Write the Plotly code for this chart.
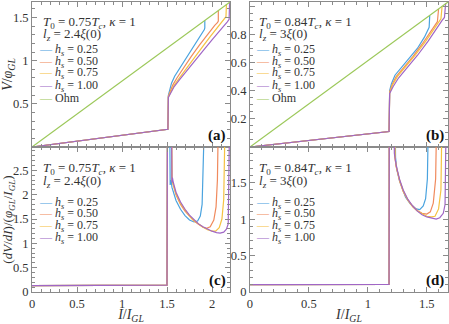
import plotly.graph_objects as go
from plotly.subplots import make_subplots

# ---- data ----
hs_labels = ["0.25", "0.50", "0.75", "1.00"]
colors = ["#4aa3df", "#f08a5d", "#f5c242", "#a066c6"]
ohm_color = "#9cc85a"

# (a) T0 = 0.75Tc, lz = 2.4xi(0): I-V
a_I = [
    [0, 1.51, 1.515, 1.53, 1.55, 1.585, 1.66, 1.73, 1.81, 1.86, 1.90, 1.915, 1.92, 1.92],
    [0, 1.51, 1.515, 1.535, 1.565, 1.61, 1.69, 1.77, 1.86, 1.93, 1.99, 2.03, 2.06, 2.07, 2.07],
    [0, 1.51, 1.515, 1.54, 1.575, 1.63, 1.72, 1.81, 1.90, 1.98, 2.05, 2.10, 2.14, 2.155, 2.16],
    [0, 1.51, 1.515, 1.545, 1.58, 1.64, 1.73, 1.82, 1.92, 2.00, 2.07, 2.12, 2.17, 2.19, 2.195],
]
a_V = [
    [0, 0.205, 0.60, 0.66, 0.74, 0.82, 0.945, 1.06, 1.18, 1.27, 1.33, 1.36, 1.38, 1.47],
    [0, 0.205, 0.59, 0.65, 0.72, 0.80, 0.93, 1.05, 1.18, 1.28, 1.36, 1.41, 1.44, 1.46, 1.58],
    [0, 0.205, 0.58, 0.64, 0.71, 0.79, 0.92, 1.04, 1.17, 1.28, 1.37, 1.43, 1.48, 1.51, 1.65],
    [0, 0.205, 0.575, 0.63, 0.70, 0.78, 0.90, 1.02, 1.14, 1.24, 1.32, 1.39, 1.45, 1.48, 1.67],
]
a_ohm_I = [0, 2.2]
a_ohm_V = [0, 1.68]

# (b) T0 = 0.84Tc, lz = 3xi(0): I-V
b_I = [
    [0, 1.18, 1.185, 1.20, 1.23, 1.28, 1.35, 1.42, 1.48, 1.51, 1.52, 1.525],
    [0, 1.18, 1.185, 1.205, 1.24, 1.30, 1.38, 1.46, 1.53, 1.57, 1.59, 1.60],
    [0, 1.18, 1.185, 1.21, 1.25, 1.32, 1.40, 1.49, 1.56, 1.60, 1.62, 1.63],
    [0, 1.18, 1.185, 1.215, 1.26, 1.33, 1.42, 1.51, 1.58, 1.63, 1.65, 1.66],
]
b_V = [
    [0, 0.11, 0.40, 0.45, 0.51, 0.56, 0.625, 0.70, 0.78, 0.83, 0.85, 0.935],
    [0, 0.11, 0.39, 0.44, 0.50, 0.56, 0.64, 0.73, 0.82, 0.87, 0.89, 0.98],
    [0, 0.11, 0.385, 0.44, 0.50, 0.57, 0.65, 0.75, 0.84, 0.89, 0.91, 1.00],
    [0, 0.11, 0.38, 0.43, 0.49, 0.56, 0.65, 0.75, 0.84, 0.90, 0.92, 1.02],
]
b_ohm_I = [0, 1.68]
b_ohm_V = [0, 1.03]

# (c) differential resistance, T0 = 0.75Tc
c_I = [
    [0, 1.50, 1.505, 1.53, 1.535, 1.545, 1.555, 1.57, 1.60, 1.65, 1.70, 1.75, 1.80, 1.84, 1.87, 1.89, 1.905, 1.915],
    [0, 1.50, 1.505, 1.55, 1.555, 1.56, 1.57, 1.60, 1.65, 1.70, 1.75, 1.80, 1.85, 1.90, 1.94, 1.98, 2.02, 2.045, 2.06, 2.07],
    [0, 1.50, 1.505, 1.55, 1.555, 1.56, 1.57, 1.60, 1.65, 1.70, 1.75, 1.80, 1.85, 1.90, 1.95, 2.00, 2.04, 2.08, 2.11, 2.13, 2.145],
    [0, 1.50, 1.505, 1.55, 1.555, 1.56, 1.57, 1.60, 1.65, 1.70, 1.75, 1.80, 1.85, 1.90, 1.95, 2.00, 2.05, 2.09, 2.13, 2.16, 2.18, 2.195],
]
c_R = [
    [0.13, 0.14, 3.5, 3.5, 2.2, 2.3, 2.15, 2.05, 1.88, 1.70, 1.57, 1.48, 1.44, 1.46, 1.56, 1.80, 2.40, 3.5],
    [0.13, 0.14, 3.5, 3.5, 2.3, 2.25, 2.2, 2.0, 1.80, 1.66, 1.55, 1.46, 1.39, 1.33, 1.31, 1.34, 1.48, 1.75, 2.3, 3.5],
    [0.13, 0.14, 3.5, 3.5, 2.3, 2.28, 2.2, 2.02, 1.82, 1.68, 1.56, 1.47, 1.39, 1.33, 1.28, 1.25, 1.25, 1.32, 1.50, 1.9, 3.5],
    [0.13, 0.14, 3.5, 3.5, 2.25, 2.35, 2.25, 2.05, 1.85, 1.70, 1.58, 1.48, 1.40, 1.34, 1.29, 1.25, 1.22, 1.21, 1.23, 1.29, 1.40, 3.5],
]

# (d) differential resistance, T0 = 0.84Tc
d_I = [
    [0, 1.18, 1.182, 1.23, 1.235, 1.245, 1.27, 1.29, 1.32, 1.36, 1.41, 1.44, 1.47, 1.49, 1.505, 1.515],
    [0, 1.18, 1.182, 1.225, 1.23, 1.24, 1.27, 1.30, 1.34, 1.38, 1.42, 1.46, 1.50, 1.53, 1.555, 1.575, 1.585],
    [0, 1.18, 1.182, 1.225, 1.23, 1.24, 1.27, 1.30, 1.34, 1.38, 1.42, 1.46, 1.50, 1.54, 1.57, 1.60, 1.62, 1.63],
    [0, 1.18, 1.182, 1.22, 1.225, 1.24, 1.27, 1.30, 1.34, 1.38, 1.42, 1.46, 1.50, 1.54, 1.58, 1.61, 1.64, 1.655, 1.665],
]
d_R = [
    [0.1, 0.105, 2.5, 2.5, 1.85, 1.69, 1.52, 1.42, 1.30, 1.21, 1.14, 1.13, 1.18, 1.28, 1.55, 2.5],
    [0.1, 0.105, 2.5, 2.5, 1.85, 1.72, 1.52, 1.38, 1.26, 1.18, 1.12, 1.08, 1.07, 1.10, 1.22, 1.55, 2.5],
    [0.1, 0.105, 2.5, 2.5, 1.85, 1.73, 1.53, 1.39, 1.26, 1.17, 1.11, 1.07, 1.04, 1.03, 1.04, 1.14, 1.40, 2.5],
    [0.1, 0.105, 2.5, 2.5, 1.9, 1.74, 1.54, 1.40, 1.27, 1.18, 1.11, 1.06, 1.03, 1.01, 1.00, 1.02, 1.08, 1.2, 2.5],
]

FONT = "Liberation Serif, DejaVu Serif, serif"
TXT = "#333333"
FRAME = "#8a8a8a"

fig = make_subplots(rows=2, cols=2, horizontal_spacing=0.048, vertical_spacing=0)

panels = [(1, 1, a_I, a_V), (1, 2, b_I, b_V), (2, 1, c_I, c_R), (2, 2, d_I, d_R)]
for row, col, xs, ys in panels:
    for k in range(4):
        fig.add_trace(go.Scatter(
            x=xs[k], y=ys[k], mode="lines",
            line=dict(color=colors[k], width=1.2),
            name="h_s = " + hs_labels[k], showlegend=False,
        ), row=row, col=col)

fig.add_trace(go.Scatter(x=a_ohm_I, y=a_ohm_V, mode="lines", line=dict(color=ohm_color, width=1.2),
                         name="Ohm", showlegend=False), row=1, col=1)
fig.add_trace(go.Scatter(x=b_ohm_I, y=b_ohm_V, mode="lines", line=dict(color=ohm_color, width=1.2),
                         name="Ohm", showlegend=False), row=1, col=2)

axis_common = dict(
    showline=True, linecolor=FRAME, linewidth=1, mirror="allticks", automargin=False,
    ticks="inside", ticklen=5, tickcolor=FRAME, showgrid=False, zeroline=False,
    tickfont=dict(family=FONT, size=12.5, color=TXT),
)
minor = dict(dtick=0.1, ticklen=3, tickcolor=FRAME, ticks="inside")

# x axes
fig.update_xaxes(**axis_common)
fig.update_xaxes(range=[0, 2.2], tickvals=[0, 0.5, 1, 1.5, 2], minor=minor, col=1)
fig.update_xaxes(range=[0, 1.68], tickvals=[0, 0.5, 1, 1.5], minor=minor, col=2)
fig.update_xaxes(showticklabels=False, row=1)
fig.update_xaxes(title=dict(text="<i>I</i>/<i>I<sub>GL</sub></i>", font=dict(family=FONT, size=14, color=TXT),
                            standoff=5), row=2)

# y axes
fig.update_yaxes(**axis_common)
fig.update_yaxes(range=[0, 1.68], tickvals=[0.5, 1, 1.5], minor=minor,
                 title=dict(text="<i>V</i>/<i>φ<sub>GL</sub></i>", font=dict(family=FONT, size=14, color=TXT),
                            standoff=3), row=1, col=1)
fig.update_yaxes(range=[0, 1.03], tickvals=[0.2, 0.4, 0.6, 0.8, 1],
                 minor=dict(dtick=0.05, ticklen=3, tickcolor=FRAME, ticks="inside"), row=1, col=2)
fig.update_yaxes(range=[0, 2.98], tickvals=[0, 0.5, 1, 1.5, 2, 2.5], minor=minor,
                 title=dict(text="(<i>dV</i>/<i>dI</i>)/(<i>φ<sub>GL</sub></i>/<i>I<sub>GL</sub></i>)",
                            font=dict(family=FONT, size=13, color=TXT), standoff=4), row=2, col=1)
fig.update_yaxes(range=[0, 1.99], tickvals=[0, 0.5, 1, 1.5], minor=minor, row=2, col=2)

# manual domains to match the reference layout
fig.update_layout(
    xaxis=dict(domain=[0, 0.476]), xaxis3=dict(domain=[0, 0.476]),
    xaxis2=dict(domain=[0.524, 1]), xaxis4=dict(domain=[0.524, 1]),
    yaxis=dict(domain=[0.5, 1]), yaxis2=dict(domain=[0.5, 1]),
    yaxis3=dict(domain=[0, 0.5]), yaxis4=dict(domain=[0, 0.5]),
)

# parameter text, legend keys and panel tags, placed in each subplot's domain
top_y = [0.862, 0.779]
leg_y_top = [0.669, 0.586, 0.507, 0.421, 0.338]
bot_y = [0.855, 0.761]
leg_y_bot = [0.616, 0.536, 0.455, 0.370]

panel_text = [
    ("x", "y", "0.75", "2.4", "(a)", True, top_y, leg_y_top, 0.044, 0.026),
    ("x2", "y2", "0.84", "3", "(b)", True, top_y, leg_y_top, 0.034, 0.02),
    ("x3", "y3", "0.75", "2.4", "(c)", False, bot_y, leg_y_bot, 0.044, 0.026),
    ("x4", "y4", "0.84", "3", "(d)", False, bot_y, leg_y_bot, 0.034, 0.02),
]
for xa, ya, t0, lz, tag, has_ohm, ty, ly, tx, lx in panel_text:
    xr, yr = xa + " domain", ya + " domain"
    fig.add_annotation(xref=xr, yref=yr, x=tx, y=ty[0], showarrow=False, xanchor="left", yanchor="middle",
                       text="<i>T</i><sub>0</sub> = " + t0 + "<i>T<sub>c</sub></i>, <i>κ</i> = 1",
                       font=dict(family=FONT, size=13, color=TXT))
    fig.add_annotation(xref=xr, yref=yr, x=tx, y=ty[1], showarrow=False, xanchor="left", yanchor="middle",
                       text="<i>l<sub>z</sub></i> = " + lz + "<i>ξ</i>(0)",
                       font=dict(family=FONT, size=13, color=TXT))
    keys = [(colors[k], "<i>h<sub>s</sub></i> = " + hs_labels[k]) for k in range(4)]
    if has_ohm:
        keys.append((ohm_color, "Ohm"))
    for (c, lab), yy in zip(keys, ly):
        fig.add_annotation(xref=xr, yref=yr, x=lx, y=yy, showarrow=False, xanchor="left", yanchor="middle",
                           text="<span style='color:" + c + "'>—</span> " + lab,
                           font=dict(family=FONT, size=12, color=TXT))
    fig.add_annotation(xref=xr, yref=yr, x=0.99, y=0.01, text="<b>" + tag + "</b>", showarrow=False,
                       xanchor="right", yanchor="bottom", font=dict(family=FONT, size=15, color="#111111"))

fig.update_layout(
    width=449, height=324,
    margin=dict(l=32, r=1, t=2, b=32),
    paper_bgcolor="white", plot_bgcolor="white",
    showlegend=False,
)

fig.write_html("out.html", config={"displayModeBar": False},
               post_script="document.body.style.margin='0px';")
